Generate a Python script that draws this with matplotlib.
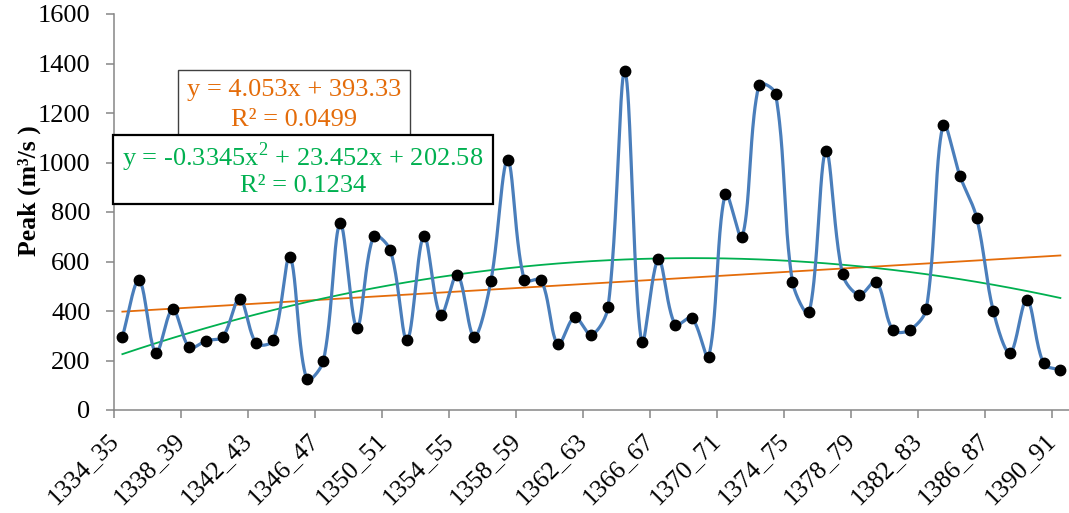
import numpy as np
import matplotlib
matplotlib.use("Agg")
import matplotlib.pyplot as plt
from matplotlib.patches import Rectangle
import matplotlib.transforms as mtransforms

# ---------------- data ----------------
years = [f"{y}_{(y + 1) % 100:02d}" for y in range(1334, 1391)]
peak = [296, 524, 231, 407, 253, 280, 296, 450, 269, 282,
        618, 125, 198, 754, 332, 702, 645, 282, 704, 383,
        547, 296, 521, 1009, 525, 525, 265, 375, 304, 417,
        1368, 273, 609, 345, 372, 215, 874, 698, 1313, 1277,
        519, 394, 1047, 548, 465, 519, 323, 323, 410, 1153,
        946, 777, 399, 230, 446, 188, 161]
lin_coef = [4.053, 393.33]              # y = a x + b
poly_coef = [-0.3345, 23.452, 202.58]   # y = a x^2 + b x + c
lin_lines = ["y = 4.053x + 393.33", "R² = 0.0499"]
poly_lines = ["y = -0.3345x$^{2}$ + 23.452x + 202.58", "R² = 0.1234"]
y_label = "Peak (m³/s )"
yticks = [0, 200, 400, 600, 800, 1000, 1200, 1400, 1600]

# ---------------- style ----------------
W, H = 1069, 513
plt.rcParams['font.family'] = ['Liberation Serif', 'DejaVu Serif']
plt.rcParams['mathtext.fontset'] = 'custom'
plt.rcParams['mathtext.rm'] = 'Liberation Serif'
fig = plt.figure(figsize=(W / 100, H / 100), dpi=100)
ax_left, ax_right, ax_top, ax_bot = 114, 1068.75, 14, 410
ax = fig.add_axes([ax_left / W, 1 - ax_bot / H, (ax_right - ax_left) / W,
                   (ax_bot - ax_top) / H])

n = len(peak)
x = np.arange(n)
y = np.array(peak, dtype=float)

# pixel scale for smoothing (Excel smooths in screen space)
sxp = (ax_right - ax_left) / n
syp = (ax_bot - ax_top) / 1600.0


def smooth(xs, ys, steps=40):
    P = np.column_stack([xs * sxp, ys * syp])
    P = np.vstack([P[0], P, P[-1]])
    out = []
    t = np.linspace(0, 1, steps)[:, None]
    for i in range(1, len(P) - 2):
        p0, p1, p2, p3 = P[i - 1], P[i], P[i + 1], P[i + 2]
        d01 = np.linalg.norm(p1 - p0)
        d12 = np.linalg.norm(p2 - p1)
        d23 = np.linalg.norm(p3 - p2)
        f1 = d12 / (d01 + d12) / 3 if (d01 + d12) > 0 else 0
        f2 = d12 / (d12 + d23) / 3 if (d12 + d23) > 0 else 0
        c1 = p1 + (p2 - p0) * f1
        c2 = p2 - (p3 - p1) * f2
        b = (1 - t) ** 3 * p1 + 3 * (1 - t) ** 2 * t * c1 \
            + 3 * (1 - t) * t ** 2 * c2 + t ** 3 * p2
        out.append(b)
    out = np.vstack(out)
    return out[:, 0] / sxp, out[:, 1] / syp


sx, sy = smooth(x, y)
ax.plot(sx, sy, color='#4A7EBB', lw=2.3, zorder=3, solid_capstyle='round')
ax.plot(x, y, 'o', color='black', ms=7.5, zorder=4)

xt = x + 1
ax.plot(x, lin_coef[0] * xt + lin_coef[1], color='#E46C0A', lw=1.3, zorder=2)
ax.plot(x, np.polyval(poly_coef, xt), color='#00B050', lw=1.3, zorder=2)

ax.set_xlim(-0.5, n - 0.5)
ax.set_ylim(0, 1600)
ax.set_yticks(yticks)
ax.set_yticklabels([str(v) for v in yticks], fontsize=19)

ax.set_xticks(np.arange(-0.5, n, 4))
ax.set_xticklabels([])
ax.set_xticks(x[::4], minor=True)
ax.set_xticklabels(years[::4], minor=True, rotation=45, ha='right', va='top',
                   fontsize=18.5)
offset = mtransforms.ScaledTranslation(5 / 100, 0, fig.dpi_scale_trans)
for lab in ax.get_xticklabels(minor=True):
    lab.set_transform(lab.get_transform() + offset)
ax.tick_params(axis='x', which='minor', length=0, pad=14)
ax.tick_params(axis='x', which='major', length=6, width=1.1, color='#868686',
               direction='out')
ax.tick_params(axis='y', length=6, width=1.1, color='#868686', direction='out',
               pad=11)

for s in ['top', 'right']:
    ax.spines[s].set_visible(False)
for s in ['left', 'bottom']:
    ax.spines[s].set_color('#868686')
    ax.spines[s].set_linewidth(1.1)

ax.set_ylabel(y_label, fontsize=18.5, fontweight='bold')
ax.yaxis.set_label_coords(-0.076, 0.555)


def fig_box(x0, y0, x1, y1, ec, lw, z):
    r = Rectangle((x0 / W, 1 - y1 / H), (x1 - x0) / W, (y1 - y0) / H,
                  transform=fig.transFigure, facecolor='white', edgecolor=ec,
                  lw=lw, zorder=z)
    fig.add_artist(r)


fig_box(178, 70, 410, 138, '#404040', 1.0, 10)
for line, yy in zip(lin_lines, [90, 120]):
    fig.text(294 / W, 1 - yy / H, line, color='#E46C0A', fontsize=19,
             ha='center', va='center', zorder=11)
fig_box(113, 135, 493, 204, 'black', 1.6, 12)
for line, yy in zip(poly_lines, [157, 186]):
    fig.text(303 / W, 1 - yy / H, line, color='#00B050', fontsize=19,
             ha='center', va='center', zorder=13)

fig.savefig("out.png", dpi=100)
